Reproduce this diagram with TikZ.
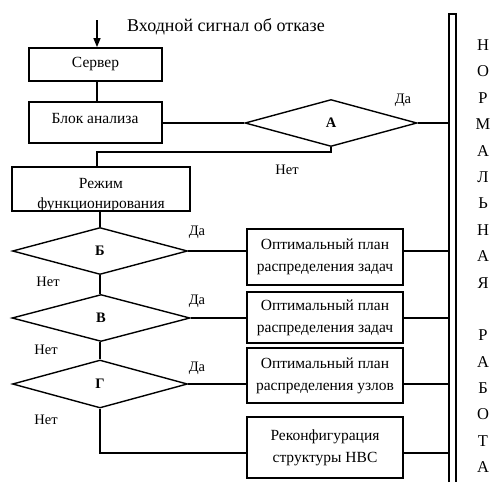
\documentclass[tikz,border=0pt]{standalone}
\usepackage{fontspec}
\setmainfont{Liberation Serif}
\usetikzlibrary{shapes.geometric,arrows.meta}
\begin{document}
\begin{tikzpicture}[x=1pt,y=-1pt,
  box/.style={draw,line width=1.7pt,rectangle,inner sep=0pt,align=center,font=\fontsize{15.5}{22}\selectfont},
  txt/.style={inner sep=0pt,align=center,font=\fontsize{15.5}{20}\selectfont},
  dec/.style={draw,line width=1.4pt,diamond,inner sep=0pt,font=\bfseries\fontsize{14.5}{16}\selectfont},
  conn/.style={line width=1.4pt},
  lbl/.style={font=\fontsize{14.5}{16}\selectfont,inner sep=0pt},
  vlet/.style={font=\fontsize{16.5}{18}\selectfont,inner sep=0pt}]
\useasboundingbox (0,0) rectangle (495,482);
\fill[white] (0,0) rectangle (495,482);
% title
\node[font=\fontsize{18}{20}\selectfont,inner sep=0pt,anchor=west] (title) at (127,27) {Входной сигнал об отказе};
\coordinate (in) at (97,20);
% boxes
\node[box,minimum width=133pt,minimum height=33pt] (server) at (95.5,64.5) {Сервер};
\node[box,minimum width=133pt,minimum height=41pt] (blok) at (95.5,122.5) {};
\node[txt] (bloktxt) at (95,118) {Блок анализа};
\node[dec,minimum width=172pt,minimum height=47pt] (A) at (331,123) {А};
\node[box,minimum width=178pt,minimum height=44pt] (rezhim) at (101,189) {};
\node[txt] (rezhimtxt) at (101,195) {Режим\\функционирования};
\node[dec,minimum width=175pt,minimum height=47pt] (B) at (100,251) {Б};
\node[dec,minimum width=178pt,minimum height=47pt] (V) at (101,318) {В};
\node[dec,minimum width=175pt,minimum height=48pt] (G) at (100,384) {Г};
\node[box,minimum width=156pt,minimum height=56pt] (b1) at (325,257) {Оптимальный план\\распределения задач};
\node[box,minimum width=156pt,minimum height=51pt] (b2) at (325,317.5) {Оптимальный план\\распределения задач};
\node[box,minimum width=156pt,minimum height=55pt] (b3) at (325,375.5) {Оптимальный план\\распределения узлов};
\node[box,minimum width=156pt,minimum height=61pt] (b4) at (325,447.5) {Реконфигурация\\структуры НВС};
% rail
\coordinate (railtop) at (449,14);
\draw[line width=1.4pt] (449,482) -- (railtop) -- (456,14) -- (456,482);
\coordinate (rail) at (449,0);
% connectors
\draw[conn,-{Triangle[length=9pt,width=7pt]}] (in) -- (server.north -| in);
\draw[conn] (server.south -| in) -- (blok.north -| in);
\draw[conn] (blok.east |- A.west) -- (A.west);
\draw[conn] (A.east) -- (A.east -| rail);
\coordinate (an) at (331,152);
\draw[conn] (A.south) -- (an) -- (an -| in) -- (rezhim.north -| in);
\draw[conn] (rezhim.south -| B.north) -- (B.north);
\draw[conn] (B.south) -- (V.north -| B.south);
\draw[conn] (V.south -| G.north) -- (G.north);
\coordinate (gb) at (100,453);
\draw[conn] (G.south) -- (gb) -- (gb -| b4.west);
\draw[conn] (B.east) -- (B.east -| b1.west);
\draw[conn] (V.east) -- (V.east -| b2.west);
\draw[conn] (G.east) -- (G.east -| b3.west);
\draw[conn] (B.east -| b1.east) -- (B.east -| rail);
\draw[conn] (V.east -| b2.east) -- (V.east -| rail);
\draw[conn] (G.east -| b3.east) -- (G.east -| rail);
\draw[conn] (gb -| b4.east) -- (gb -| rail);
% labels
\node[lbl] (da1) at (403,100) {Да};
\node[lbl] (net1) at (287,170) {Нет};
\node[lbl] (da2) at (197,232) {Да};
\node[lbl] (net2) at (48,282) {Нет};
\node[lbl] (da3) at (197,301) {Да};
\node[lbl] (net3) at (46,350) {Нет};
\node[lbl] (da4) at (197,368) {Да};
\node[lbl] (net4) at (46,420) {Нет};
% vertical text
\foreach \l [count=\i from 0] in {Н,О,Р,М,А,Л,Ь,Н,А,Я,{},Р,А,Б,О,Т,А}{
  \node[vlet] (v\i) at (483,{45+26.4*\i}) {\l};
}
\end{tikzpicture}
\end{document}
